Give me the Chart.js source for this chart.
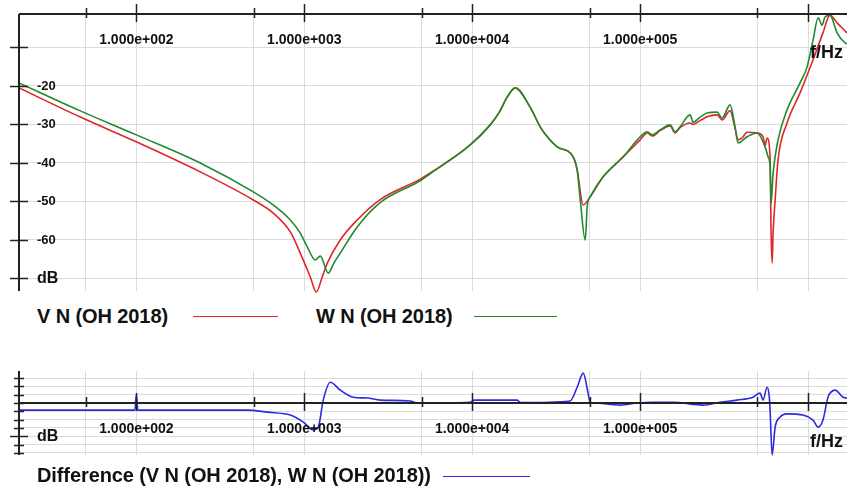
<!DOCTYPE html>
<html>
<head>
<meta charset="utf-8">
<script src="https://cdn.jsdelivr.net/npm/chart.js@4.4.1/dist/chart.umd.min.js"></script>
<style>
  body { margin: 0; background: #fff; }
  #wrap { position: relative; width: 847px; height: 491px; overflow: hidden;
          font-family: "Liberation Sans", Arial, sans-serif; font-weight: bold; }
  .leg { position: absolute; font-size: 20px; color: #111; white-space: nowrap; line-height: 22px; letter-spacing: -0.1px; }
  .swatch { position: absolute; height: 0; border-top: 1.5px solid; }
</style>
</head>
<body>
<div id="wrap">
  <canvas id="mainChart" width="847" height="300" style="position:absolute;left:0;top:0"></canvas>
  <div class="leg" style="left:37px;top:305px">V N (OH 2018)</div>
  <div class="swatch" style="left:193px;top:316px;width:85px;border-color:#e0262b"></div>
  <div class="leg" style="left:316px;top:305px">W N (OH 2018)</div>
  <div class="swatch" style="left:474px;top:316px;width:83px;border-color:#1f8a2e"></div>
  <canvas id="diffChart" width="847" height="110" style="position:absolute;left:0;top:360px"></canvas>
  <div class="leg" style="left:37px;top:464px">Difference (V N (OH 2018), W N (OH 2018))</div>
  <div class="swatch" style="left:443px;top:476px;width:87px;border-color:#2b2be0"></div>
</div>
<script>
// ---- data (frequency in Hz, level in dB) ----
const freqV = [20, 46, 100, 240, 497, 653, 826, 946, 1086, 1180, 1279, 1371, 1637, 2066, 2831, 4900, 5620,
  9730, 12800, 14500, 16150, 18030, 22130, 25400, 28000, 32070, 39900, 42170, 45800, 50400, 60200, 79200,
  100000, 110200, 117900, 131500, 150900, 161500, 173000, 198500, 206700, 227500, 250400, 287200, 307600,
  343300, 367600, 383000, 404600, 433400, 497000, 539600, 554700, 570200, 594200, 602600, 611000, 619400,
  636800, 662800, 749700, 896000, 1071000, 1227000, 1351000, 1489000, 1706000];
const dbV = [-20.5, -28.0, -34.5, -42.3, -49.6, -53.0, -57.9, -63.4, -69.6, -73.5, -69.6, -66.0, -60.0, -54.8, -49.5, -44.2, -42.6,
  -35.3, -30.1, -26.8, -22.9, -20.5, -25.5, -30.6, -33.2, -35.8, -38.4, -41.8, -50.9, -48.8, -43.6, -38.4,
  -34.0, -32.2, -33.0, -31.6, -30.4, -32.2, -30.8, -29.6, -30.0, -29.0, -28.0, -27.5, -28.8,
  -26.4, -31.0, -34.0, -33.5, -32.0, -32.2, -33.2, -35.5, -33.5, -38.4, -58.2, -66.0, -58.0,
  -49.6, -39.2, -29.6, -21.8, -13.2, -6.2, -1.6, -3.6, -6.2];

const freqW = [20, 46, 100, 240, 497, 653, 826, 946, 1042, 1163, 1245, 1390, 1500, 1637, 2066, 2831, 4900, 5620,
  9730, 12800, 14500, 16150, 18030, 22130, 25400, 28000, 32070, 39900, 42170, 44000, 47090, 48500, 50400, 60200, 79200,
  100000, 110200, 117900, 131500, 150900, 161500, 173000, 198500, 206700, 227500, 250400, 287200, 307600,
  343300, 367600, 383000, 433400, 497000, 554700, 578200, 594200, 602600, 619400, 662800, 749700, 896000,
  986000, 1071000, 1148000, 1211000, 1262000, 1351000, 1489000, 1661000, 1706000];
const dbW = [-19.2, -26.4, -32.7, -40.0, -47.5, -50.9, -54.8, -58.2, -61.8, -65.2, -64.2, -68.6, -66.0, -63.4, -56.6, -50.3, -44.6, -42.8,
  -35.3, -30.1, -26.8, -22.9, -20.5, -25.5, -30.6, -33.2, -35.8, -38.4, -41.8, -49.6, -60.0, -50.9, -48.8, -43.6, -38.4,
  -33.2, -31.9, -32.7, -31.4, -30.1, -31.9, -30.6, -27.5, -29.4, -28.1, -27.0, -26.8, -28.3,
  -24.9, -30.6, -34.8, -33.2, -32.2, -35.8, -38.4, -41.0, -50.4, -42.6, -34.0, -26.2, -19.2,
  -15.1, -8.1, -2.3, -4.2, -2.1, -1.6, -6.2, -8.8, -9.0];

const freqDiff = [20, 98, 100, 102, 458, 603, 826, 986, 1132, 1211, 1297, 1428, 1637, 1958, 2371, 2831, 4276, 4705,
  9730, 10280, 18540, 19360, 38280, 42170, 45800, 48980, 50400, 52480, 76000, 95900, 119400, 157000, 237000,
  299500, 377600, 470700, 517600, 539600, 570200, 586400, 594200, 611000, 636800, 680700, 749700, 933500,
  1071000, 1148000, 1227000, 1315000, 1449000, 1616000, 1706000];
const dbDiff = [-1.7, -1.7, 1.9, -1.7, -1.7, -2.2, -2.9, -4.6, -6.5, -5.8, 0.7, 5.0, 3.1, 1.4, 1.2, 0.7, 0.5, 0,
  0.2, 0.7, 0.7, 0.1, 0.5, 3.8, 7.2, 2.4, 0, 0, -0.5, 0, 0.2, 0.2, -0.5,
  0.2, 0.7, 1.4, 2.4, 0.7, 3.8, 1.9, -1.7, -12.5, -5.8, -3.4, -2.6, -2.9,
  -4.1, -5.8, -4.1, 1.4, 3.1, 1.4, 1.2];

// grid / tick positions and labels
const gridFreqs = [50, 100, 500, 1000, 5000, 10000, 50000, 100000, 500000, 1000000];
const xLabelFreqs = [100, 1000, 10000, 100000, 1000000];
const xLabels = ['1.000e+002', '1.000e+003', '1.000e+004', '1.000e+005', 'f/Hz'];
const yTicksMain = [-70, -60, -50, -40, -30, -20, -10];
const yLabelsMain = ['dB', '-60', '-50', '-40', '-30', '-20', ''];
const yTicksDiff = [-12, -10, -8, -6, -4, -2, 0, 2, 4, 6];
const yLabelsDiff = ['', '', 'dB', '', '', '', '', '', '', ''];

const GRID = '#dcdcdc';
const AXIS = '#222';
const FONT = '"Liberation Sans", Arial, sans-serif';

const pts = (xs, ys) => xs.map((f, i) => ({ x: f, y: ys[i] }));

// axis lines drawn across the plot, with ticks crossing them
const crossAxes = {
    id: 'crossAxes',
    afterDraw(chart, args, opts) {
        const { ctx, chartArea: a, scales: { x, y } } = chart;
        const y0 = opts.xAxisAt === null ? a.top : y.getPixelForValue(opts.xAxisAt);
        ctx.save();
        ctx.strokeStyle = AXIS;
        ctx.lineWidth = 2;
        ctx.beginPath();
        ctx.moveTo(a.left, y0); ctx.lineTo(a.right, y0);
        ctx.moveTo(a.left, a.top); ctx.lineTo(a.left, a.bottom);
        ctx.stroke();

        ctx.lineWidth = 1.5;
        ctx.beginPath();
        gridFreqs.forEach(f => {
            const px = Math.round(x.getPixelForValue(f)) + 0.5;
            const decade = Math.abs(Math.log10(f) - Math.round(Math.log10(f))) < 1e-6;
            ctx.moveTo(px, y0 - (decade ? 10 : 6));
            ctx.lineTo(px, y0 + (decade ? 8 : 4));
        });
        opts.yTicks.forEach((v, i) => {
            const py = Math.round(y.getPixelForValue(v)) + 0.5;
            const len = opts.yLabels[i] || opts.longTicks ? 9 : 5;
            ctx.moveTo(a.left - len, py);
            ctx.lineTo(a.left + len, py);
        });
        ctx.stroke();

        ctx.fillStyle = '#111';
        ctx.textBaseline = 'middle';
        xLabelFreqs.forEach((f, i) => {
            const px = x.getPixelForValue(f);
            if (xLabels[i] === 'f/Hz') {
                ctx.font = 'bold 18px ' + FONT;
                ctx.textAlign = 'left';
                ctx.fillText(xLabels[i], px + 2, y0 + 39);
            } else {
                ctx.font = 'bold 14px ' + FONT;
                ctx.textAlign = 'center';
                ctx.fillText(xLabels[i], px, y0 + 26);
            }
        });
        ctx.textAlign = 'left';
        opts.yTicks.forEach((v, i) => {
            const lbl = opts.yLabels[i];
            if (!lbl) return;
            ctx.font = (lbl === 'dB' ? 'bold 16px ' : 'bold 13px ') + FONT;
            ctx.fillText(lbl, a.left + 18, y.getPixelForValue(v));
        });
        ctx.restore();
    }
};

const logX = {
    type: 'logarithmic',
    min: 20,
    max: 1706000,
    afterBuildTicks: s => { s.ticks = gridFreqs.map(v => ({ value: v })); },
    ticks: { display: false },
    grid: { color: GRID, lineWidth: 1, drawTicks: false },
    border: { display: false }
};

const lineDs = (label, data, color) => ({
    label, data, borderColor: color, borderWidth: 1.6,
    pointRadius: 0, cubicInterpolationMode: 'monotone',
    clip: { left: 0, top: 2, right: 0, bottom: 6 }
});

new Chart(document.getElementById('mainChart'), {
    type: 'line',
    data: {
        datasets: [
            lineDs('W N (OH 2018)', pts(freqW, dbW), '#1f8a2e'),
            lineDs('V N (OH 2018)', pts(freqV, dbV), '#e0262b')
        ]
    },
    options: {
        responsive: false,
        animation: false,
        devicePixelRatio: 1,
        layout: { padding: { left: 19, top: 14, right: 0, bottom: 9 } },
        scales: {
            x: logX,
            y: {
                type: 'linear',
                min: -73.25,
                max: -1.3,
                afterBuildTicks: s => { s.ticks = yTicksMain.map(v => ({ value: v })); },
                ticks: { display: false },
                grid: { color: GRID, lineWidth: 1, drawTicks: false },
                border: { display: false }
            }
        },
        plugins: {
            legend: { display: false },
            tooltip: { enabled: false },
            crossAxes: { xAxisAt: null, yTicks: yTicksMain, yLabels: yLabelsMain, longTicks: true }
        }
    },
    plugins: [crossAxes]
});

new Chart(document.getElementById('diffChart'), {
    type: 'line',
    data: {
        datasets: [lineDs('Difference (V N (OH 2018), W N (OH 2018))', pts(freqDiff, dbDiff), '#2b2be0')]
    },
    options: {
        responsive: false,
        animation: false,
        devicePixelRatio: 1,
        layout: { padding: { left: 19, top: 11, right: 0, bottom: 15 } },
        scales: {
            x: logX,
            y: {
                type: 'linear',
                min: -12.5,
                max: 7.7,
                afterBuildTicks: s => { s.ticks = yTicksDiff.map(v => ({ value: v })); },
                ticks: { display: false },
                grid: { color: GRID, lineWidth: 1, drawTicks: false },
                border: { display: false }
            }
        },
        plugins: {
            legend: { display: false },
            tooltip: { enabled: false },
            crossAxes: { xAxisAt: 0, yTicks: yTicksDiff, yLabels: yLabelsDiff, longTicks: false }
        }
    },
    plugins: [crossAxes]
});
</script>
</body>
</html>
